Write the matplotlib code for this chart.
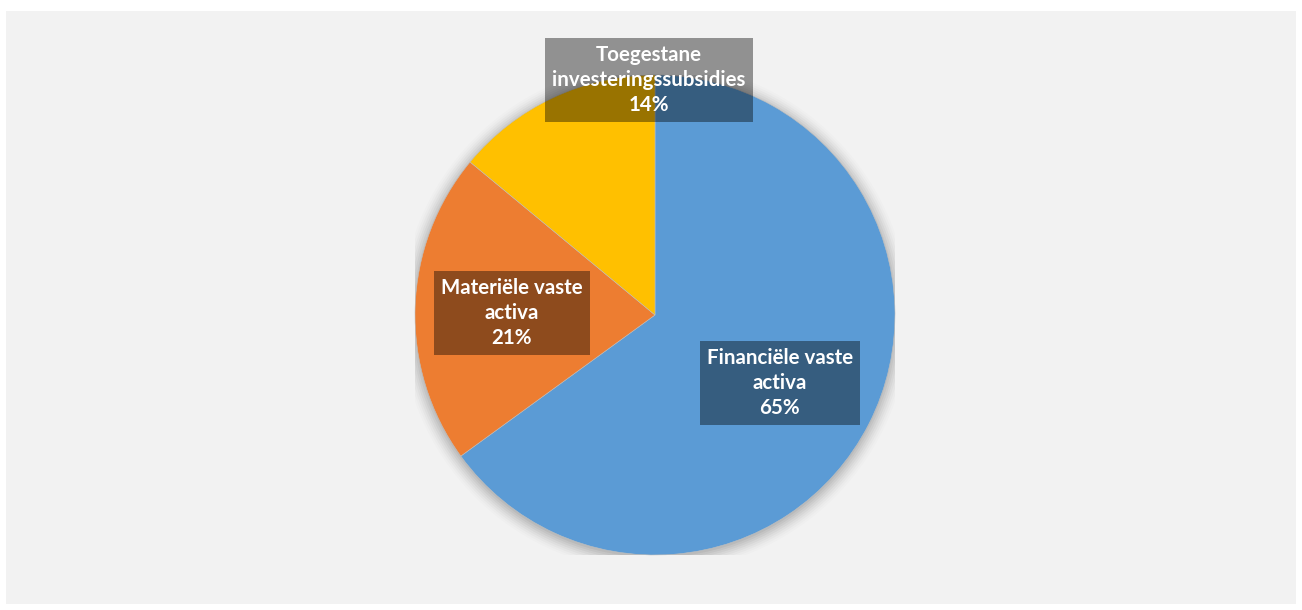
import matplotlib.pyplot as plt
from matplotlib.patches import Rectangle, Circle
import numpy as np

# asset breakdown
labels = ['Financiële vaste\nactiva', 'Materiële vaste\nactiva', 'Toegestane\ninvesteringssubsidies']
shares = [65, 21, 14]
colors = ['#5B9BD5', '#ED7D31', '#FFC000']
# label centres in pie data units
label_pos = [(0.52, -0.283), (-0.596, 0.008), (-0.025, 0.98)]

plt.rcParams['font.family'] = ['Lato', 'DejaVu Sans']

fig = plt.figure(figsize=(13.02, 6.10), dpi=100)
fig.patch.set_facecolor('white')

# light grey chart area
fig.patches.append(Rectangle((6 / 1302, 6 / 610), 1290 / 1302, 593 / 610,
                             transform=fig.transFigure, facecolor='#F2F2F2',
                             edgecolor='none', zorder=-1))

ax = fig.add_axes([415 / 1302, 55 / 610, 480 / 1302, 480 / 610])
ax.set_zorder(1)
ax.set_aspect('equal')
ax.axis('off')

# soft shadow under the pie
for r, a in zip(np.linspace(1.06, 1.0, 8), np.linspace(0.012, 0.05, 8)):
    ax.add_patch(Circle((0.0, -0.01), r, facecolor='black', alpha=a,
                        edgecolor='none', zorder=1))

wedges, _ = ax.pie(shares, colors=colors, startangle=90, counterclock=False,
                   radius=1.0, wedgeprops=dict(edgecolor='#BFBFBF', linewidth=0.4))
for w in wedges:
    w.set_zorder(2)
ax.set_xlim(-1, 1)
ax.set_ylim(-1, 1)

for (x, y), lab, s in zip(label_pos, labels, shares):
    ax.text(x, y, f'{lab}\n{s}%', ha='center', va='center', color='white',
            fontsize=14.8, fontweight='bold', linespacing=1.3, zorder=5,
            bbox=dict(boxstyle='square,pad=0.35', facecolor='black', alpha=0.4,
                      edgecolor='none'))

fig.savefig('out.png', dpi=100)
